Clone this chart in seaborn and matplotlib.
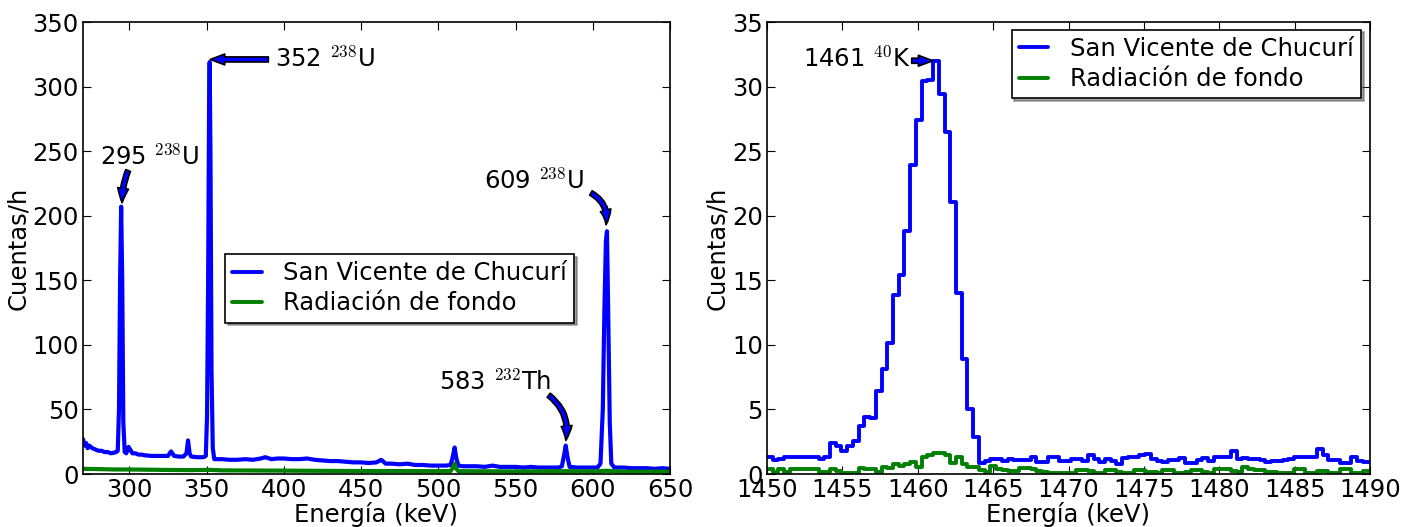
# Espectros gamma: San Vicente de Chucurí frente a la radiación de fondo
import numpy as np
import pandas as pd
import matplotlib
matplotlib.use('Agg')
import matplotlib.pyplot as plt
import seaborn as sns
from matplotlib.lines import Line2D

# ---------------- Datos panel izquierdo (espectro 270-650 keV) ----------------
energia_izq = [270, 271, 272, 273, 274, 276, 278, 280, 282, 284, 286, 288, 290, 291.5, 292.5,
               293.3, 294, 294.7, 295.4, 296.1, 297, 298, 299.5, 300.5, 302, 304, 306, 308, 310,
               314, 318, 322, 325, 327, 329, 332, 335, 337, 338, 339, 340, 344, 348, 349.5,
               350.3, 351, 351.6, 352, 352.5, 353.2, 354, 355, 360, 365, 370, 375, 380, 385,
               388, 392, 396, 400, 405, 410, 415, 420, 425, 430, 435, 440, 445, 450, 455, 460,
               463, 466, 470, 475, 480, 485, 490, 495, 500, 505, 508, 509.5, 510.6, 511.7, 513,
               516, 520, 525, 530, 535, 540, 545, 550, 555, 560, 565, 570, 575, 578, 580, 581.5,
               582.5, 583.5, 585, 590, 595, 600, 603, 605, 606.5, 607.5, 608.5, 609.2, 610, 611,
               612, 614, 620, 625, 630, 635, 640, 645, 650]
cuentas_svc = [27, 22, 24, 20, 22, 20, 19, 18, 18, 17, 17, 16, 16.5, 17, 18,
               50, 150, 207, 150, 40, 17, 16, 21, 19, 16, 16, 15, 15, 14.5,
               14, 14, 14, 14, 17.5, 14, 13.5, 13.5, 16, 26, 16, 13.5, 13, 13, 14,
               45, 150, 280, 319, 250, 80, 20, 11.5, 11.5, 11, 11, 11.5, 11, 12,
               13, 11.5, 12, 12, 11.5, 11.5, 12, 11, 10.5, 10, 10, 9.5, 9, 9, 8.5, 9,
               11, 8, 8, 7.5, 8, 7, 7, 6.5, 6.5, 6.5, 7, 14, 20.5, 12, 6.5,
               6, 6, 6, 5.5, 6.5, 5.5, 5.5, 5.5, 5, 5.5, 5, 5, 5, 5, 6, 15,
               22, 14, 5.5, 5, 5, 5, 5, 8, 50, 125, 180, 188, 125, 40,
               8, 5, 5, 4.5, 4.5, 4.5, 4, 4.5, 4]

energia_fondo_izq = [270, 280, 290, 300, 320, 340, 352, 360, 400, 450, 500, 508, 509.5, 510.6,
                     511.7, 513, 550, 583, 600, 609, 620, 650]
cuentas_fondo_izq = [4, 3.8, 3.5, 3.5, 3.2, 3.0, 3.2, 2.8, 2.6, 2.3, 2.2, 2.3, 5, 8,
                     4, 2.2, 2, 2.2, 2, 2.5, 1.8, 1.8]

# ---------------- Datos panel derecho (pico de 40K, histograma) ----------------
inicio_canal = 1450.0
ancho_canal = 0.38
cuentas_svc_k = [1.35, 1.1, 1.15, 1.3, 1.35, 1.3, 1.35, 1.35, 1.35, 1.2,
                 1.3, 2.4, 2.15, 1.8, 2.2, 2.55, 3.7, 4.4, 4.35, 6.4,
                 8.1, 10.15, 13.85, 15.4, 18.8, 23.9, 27.4, 30.4, 30.5, 32.0,
                 29.4, 26.5, 21.1, 14.05, 8.9, 5.05, 2.85, 0.85, 1.0, 1.15,
                 1.2, 1.0, 1.2, 1.05, 1.05, 1.1, 1.35, 0.9, 0.9, 1.3,
                 1.3, 1.0, 1.0, 1.15, 1.15, 1.0, 1.45, 1.2, 0.9, 1.15,
                 1.0, 0.75, 1.25, 1.35, 1.35, 1.45, 1.55, 1.2, 1.0, 0.9,
                 1.1, 1.1, 1.25, 0.85, 0.85, 1.1, 1.25, 1.0, 1.3, 1.3,
                 1.3, 1.8, 1.2, 1.25, 1.2, 1.2, 1.1, 0.95, 1.0, 1.0,
                 1.1, 1.2, 1.3, 1.3, 1.3, 1.3, 1.9, 1.5, 1.1, 1.1,
                 0.85, 0.85, 1.35, 1.0, 0.9, 0.9]
cuentas_fondo_k = [0.35, 0.15, 0.35, 0.15, 0.35, 0.35, 0.4, 0.4, 0.4, 0.15,
                   0.15, 0.4, 0.2, 0.1, 0.1, 0.1, 0.45, 0.4, 0.35, 0.15,
                   0.55, 0.5, 0.75, 0.65, 0.8, 0.9, 0.55, 1.3, 1.5, 1.65,
                   1.65, 1.5, 0.85, 1.35, 0.8, 0.55, 0.55, 0.3, 0.15, 0.6,
                   0.35, 0.3, 0.2, 0.2, 0.5, 0.5, 0.35, 0.2, 0.15, 0.1,
                   0.1, 0.1, 0.1, 0.1, 0.3, 0.3, 0.2, 0.1, 0.1, 0.3,
                   0.3, 0.15, 0.1, 0.1, 0.3, 0.3, 0.15, 0.15, 0.1, 0.3,
                   0.3, 0.1, 0.1, 0.15, 0.3, 0.3, 0.15, 0.1, 0.35, 0.35,
                   0.35, 0.2, 0.15, 0.55, 0.35, 0.3, 0.3, 0.15, 0.15, 0.1,
                   0.1, 0.1, 0.35, 0.35, 0.1, 0.1, 0.25, 0.25, 0.1, 0.1,
                   0.35, 0.35, 0.1, 0.1, 0.25, 0.25]

nombre_svc = 'San Vicente de Chucurí'
nombre_fondo = 'Radiación de fondo'
color_svc = '#0000ff'
color_fondo = '#008000'

# ---------------- Estilo ----------------
sns.set_style('ticks')
plt.rcParams['font.family'] = ['DejaVu Sans']
plt.rcParams['mathtext.fontset'] = 'cm'
for clave in ('text.color', 'axes.labelcolor', 'xtick.color', 'ytick.color'):
    plt.rcParams[clave] = 'black'
tam = 17.5

fig = plt.figure(figsize=(14.23, 5.27), dpi=100)
ax1 = fig.add_axes([83 / 1423, 53 / 527, 587 / 1423, 452 / 527])
ax2 = fig.add_axes([767 / 1423, 53 / 527, 603 / 1423, 452 / 527])

# ---------------- Panel izquierdo ----------------
df_svc = pd.DataFrame({'E': energia_izq, 'c': cuentas_svc})
df_fondo = pd.DataFrame({'E': energia_fondo_izq, 'c': cuentas_fondo_izq})
sns.lineplot(data=df_svc, x='E', y='c', color=color_svc, lw=3, ax=ax1)
sns.lineplot(data=df_fondo, x='E', y='c', color=color_fondo, lw=3, ax=ax1)
ax1.set_xlim(270, 650)
ax1.set_ylim(0, 350)
ax1.set_xticks(np.arange(300, 651, 50))
ax1.set_yticks(np.arange(0, 351, 50))

# flechas con la identificación de los picos
flecha = dict(arrowstyle='simple,head_length=0.8,head_width=0.6,tail_width=0.28',
              fc=color_svc, ec='black', lw=1.2, mutation_scale=13, shrinkA=0, shrinkB=0)
etiquetas_izq = [
    # texto, posición del texto, punta de la flecha, cola de la flecha, curvatura
    ('295 $^{238}$U', (281, 239), (295.3, 210), (299.2, 235), 0.1),
    ('352 $^{238}$U', (394.5, 315), (352.4, 321), (390, 321), 0.0),
    ('609 $^{238}$U', (529.4, 221), (608.6, 193), (598.8, 217.6), -0.35),
    ('583 $^{232}$Th', (500.2, 65), (582.6, 26), (571.5, 61), -0.3),
]
for texto, pos, punta, cola, rad in etiquetas_izq:
    ax1.text(pos[0], pos[1], texto, fontsize=tam, ha='left', va='baseline')
    ax1.annotate('', xy=punta, xytext=cola,
                 arrowprops=dict(flecha, connectionstyle='arc3,rad=%s' % rad))

# ---------------- Panel derecho ----------------
# bordes de canal; el último valor se repite para cerrar el escalón
bordes = inicio_canal + ancho_canal * np.arange(len(cuentas_svc_k) + 1)
df_k = pd.DataFrame({'E': bordes,
                     'svc': cuentas_svc_k + cuentas_svc_k[-1:],
                     'fondo': cuentas_fondo_k + cuentas_fondo_k[-1:]})
sns.lineplot(data=df_k, x='E', y='svc', color=color_svc, lw=2.8,
             drawstyle='steps-post', ax=ax2)
sns.lineplot(data=df_k, x='E', y='fondo', color=color_fondo, lw=2.8,
             drawstyle='steps-post', ax=ax2)
ax2.set_xlim(1450, 1490)
ax2.set_ylim(0, 35)
ax2.set_xticks(np.arange(1450, 1491, 5))
ax2.set_yticks(np.arange(0, 36, 5))
ax2.text(1452.4, 31.5, '1461 $^{40}$K', fontsize=tam, ha='left', va='baseline')
ax2.annotate('', xy=(1461.0, 32), xytext=(1459.6, 32),
             arrowprops=dict(flecha, connectionstyle='arc3,rad=0'))

# ---------------- Ejes y leyendas ----------------
manejadores = [Line2D([], [], color=color_svc, lw=2.8), Line2D([], [], color=color_fondo, lw=2.8)]
for ax in (ax1, ax2):
    ax.tick_params(direction='in', top=True, right=True, length=6, width=0.8,
                   labelsize=tam, pad=3)
    for s in ax.spines.values():
        s.set_linewidth(1.2)
        s.set_color('black')
    ax.set_xlabel('Energía (keV)', fontsize=tam, labelpad=0)
    ax.set_ylabel('Cuentas/h', fontsize=tam, labelpad=2)

ley1 = ax1.legend(manejadores, [nombre_svc, nombre_fondo], loc='upper left',
                  bbox_to_anchor=(0.242, 0.487), fontsize=tam, shadow=True, fancybox=False,
                  framealpha=1, edgecolor='black', handlelength=1.2, handletextpad=0.9,
                  borderpad=0.3, labelspacing=0.25, borderaxespad=0)
ley2 = ax2.legend(manejadores, [nombre_svc, nombre_fondo], loc='upper right',
                  bbox_to_anchor=(0.985, 0.983), fontsize=tam, shadow=True, fancybox=False,
                  framealpha=1, edgecolor='black', handlelength=1.2, handletextpad=0.9,
                  borderpad=0.3, labelspacing=0.25, borderaxespad=0)
for ley in (ley1, ley2):
    ley.get_frame().set_linewidth(1.2)

fig.savefig('out.png', dpi=100)
